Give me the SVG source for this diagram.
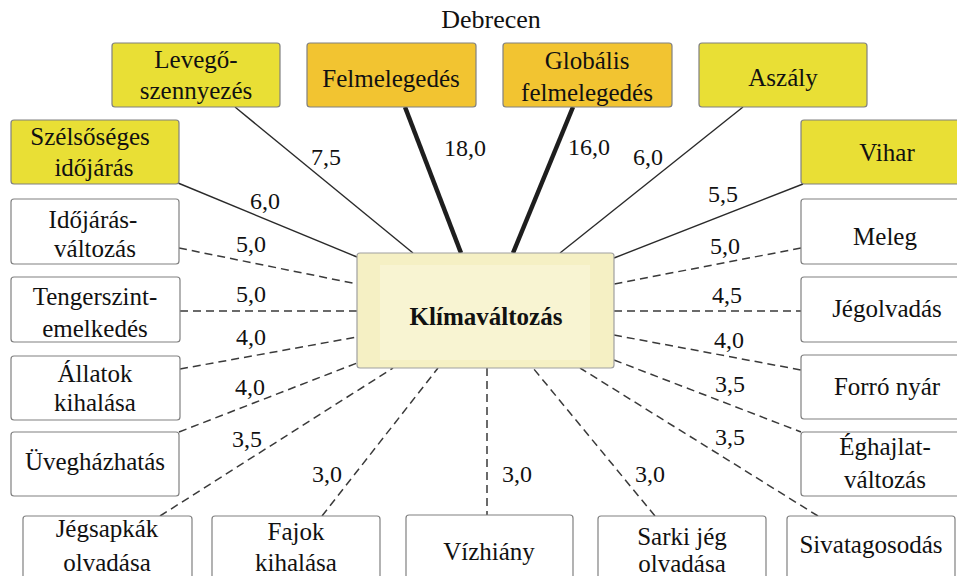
<svg xmlns="http://www.w3.org/2000/svg" width="957" height="576" viewBox="0 0 957 576" font-family="'Liberation Serif', 'Times New Roman', 'DejaVu Serif', 'Noto Serif', serif">
<style>
text{font-family:"Liberation Serif","Times New Roman","DejaVu Serif","Noto Serif",serif;fill:#111;text-anchor:middle}
.t{font-size:25px}
.lbl{font-size:24px}
.title{font-size:26px}
.ctr{font-size:25px;font-weight:bold}
.b{stroke:#808080;stroke-width:1.2}
.yel{fill:#e9df35}
.org{fill:#f2c431}
.wht{fill:#ffffff}
.s{stroke:#2a2a2a;stroke-width:1.4;fill:none}
.k{stroke:#1e1e1e;stroke-width:4.5;fill:none}
.d{stroke:#3a3a3a;stroke-width:1.5;stroke-dasharray:8 5;fill:none}
</style>
<rect width="957" height="576" fill="#ffffff"/>
<text class="title" x="491" y="28">Debrecen</text>

<g id="connectors">
<line class="s" x1="235" y1="107" x2="413" y2="253"/>
<line class="k" x1="405" y1="107" x2="461" y2="253"/>
<line class="k" x1="573" y1="107" x2="513" y2="253"/>
<line class="s" x1="743" y1="107" x2="560" y2="253"/>
<line class="s" x1="178" y1="183" x2="357" y2="257"/>
<line class="s" x1="803" y1="184" x2="614" y2="258"/>
<line class="d" x1="179" y1="248" x2="357" y2="284"/>
<line class="d" x1="801" y1="248" x2="614" y2="284"/>
<line class="d" x1="180" y1="311" x2="357" y2="311"/>
<line class="d" x1="614" y1="311" x2="801" y2="311"/>
<line class="d" x1="180" y1="369" x2="357" y2="337"/>
<line class="d" x1="614" y1="335" x2="801" y2="370"/>
<line class="d" x1="179" y1="432" x2="357" y2="363"/>
<line class="d" x1="614" y1="360" x2="801" y2="432"/>
<line class="d" x1="160" y1="516" x2="393" y2="368"/>
<line class="d" x1="322" y1="516" x2="438" y2="368"/>
<line class="d" x1="487" y1="368" x2="487" y2="515"/>
<line class="d" x1="655" y1="516" x2="533" y2="368"/>
<line class="d" x1="818" y1="516" x2="580" y2="368"/>
<text class="lbl" x="326" y="165">7,5</text>
<text class="lbl" x="465" y="156">18,0</text>
<text class="lbl" x="589" y="155">16,0</text>
<text class="lbl" x="648" y="165">6,0</text>
<text class="lbl" x="265" y="209">6,0</text>
<text class="lbl" x="723" y="202">5,5</text>
<text class="lbl" x="251" y="252">5,0</text>
<text class="lbl" x="725" y="254">5,0</text>
<text class="lbl" x="251" y="302">5,0</text>
<text class="lbl" x="727" y="303">4,5</text>
<text class="lbl" x="251" y="345">4,0</text>
<text class="lbl" x="729" y="348">4,0</text>
<text class="lbl" x="250" y="395">4,0</text>
<text class="lbl" x="730" y="392">3,5</text>
<text class="lbl" x="247" y="447">3,5</text>
<text class="lbl" x="730" y="445">3,5</text>
<text class="lbl" x="327" y="482">3,0</text>
<text class="lbl" x="517" y="482">3,0</text>
<text class="lbl" x="650" y="482">3,0</text>
</g>

<g id="klimavaltozas">
<rect x="357" y="253" width="257" height="115" rx="3" fill="#f5f0c4" stroke="#a0a0a0" stroke-width="1.2"/>
<rect x="380" y="265" width="210" height="95" fill="#f8f4d2"/>
<text class="ctr" x="486" y="325">Klímaváltozás</text>
</g>

<g id="levego"><rect class="b yel" x="112" y="43" width="168" height="64" rx="3"/>
<text class="t" x="196" y="68">Levegő-</text><text class="t" x="196" y="99">szennyezés</text></g>
<g id="felmelegedes"><rect class="b org" x="307" y="43" width="169" height="64" rx="3"/>
<text class="t" x="391" y="87">Felmelegedés</text></g>
<g id="globalis"><rect class="b org" x="503" y="43" width="169" height="64" rx="3"/>
<text class="t" x="587" y="69">Globális</text><text class="t" x="587" y="101">felmelegedés</text></g>
<g id="aszaly"><rect class="b yel" x="699" y="43" width="168" height="64" rx="3"/>
<text class="t" x="783" y="86">Aszály</text></g>
<g id="szelsoseges"><rect class="b yel" x="11" y="120" width="168" height="64" rx="3"/>
<text class="t" x="90" y="145">Szélsőséges</text><text class="t" x="94" y="176">időjárás</text></g>
<g id="vihar"><rect class="b yel" x="801" y="120" width="168" height="64" rx="3"/>
<text class="t" x="887" y="161">Vihar</text></g>

<g id="idojaras"><rect class="b wht" x="11" y="199" width="168" height="65" rx="3"/>
<text class="t" x="93" y="228">Időjárás-</text><text class="t" x="95" y="257">változás</text></g>
<g id="tengerszint"><rect class="b wht" x="11" y="277" width="169" height="65" rx="3"/>
<text class="t" x="95" y="305">Tengerszint-</text><text class="t" x="95" y="337">emelkedés</text></g>
<g id="allatok"><rect class="b wht" x="11" y="356" width="169" height="64" rx="3"/>
<text class="t" x="95" y="382">Állatok</text><text class="t" x="95" y="411">kihalása</text></g>
<g id="uveghaz"><rect class="b wht" x="11" y="432" width="168" height="64" rx="3"/>
<text class="t" x="95" y="470">Üvegházhatás</text></g>

<g id="meleg"><rect class="b wht" x="801" y="199" width="168" height="65" rx="3"/>
<text class="t" x="885" y="245">Meleg</text></g>
<g id="jegolvadas"><rect class="b wht" x="801" y="277" width="168" height="65" rx="3"/>
<text class="t" x="887" y="317">Jégolvadás</text></g>
<g id="forro"><rect class="b wht" x="801" y="355" width="168" height="64" rx="3"/>
<text class="t" x="887" y="395">Forró nyár</text></g>
<g id="eghajlat"><rect class="b wht" x="801" y="432" width="168" height="64" rx="3"/>
<text class="t" x="885" y="455">Éghajlat-</text><text class="t" x="885" y="488">változás</text></g>

<g id="jegsapkak"><rect class="b wht" x="23" y="516" width="169" height="70" rx="3"/>
<text class="t" x="107" y="537">Jégsapkák</text><text class="t" x="107" y="571">olvadása</text></g>
<g id="fajok"><rect class="b wht" x="212" y="516" width="168" height="70" rx="3"/>
<text class="t" x="296" y="540">Fajok</text><text class="t" x="296" y="571">kihalása</text></g>
<g id="vizhiany"><rect class="b wht" x="406" y="515" width="167" height="70" rx="3"/>
<text class="t" x="489" y="560">Vízhiány</text></g>
<g id="sarki"><rect class="b wht" x="598" y="516" width="168" height="70" rx="3"/>
<text class="t" x="682" y="545">Sarki jég</text><text class="t" x="682" y="572">olvadása</text></g>
<g id="sivatag"><rect class="b wht" x="787" y="516" width="168" height="70" rx="3"/>
<text class="t" x="871" y="553">Sivatagosodás</text></g>
</svg>
